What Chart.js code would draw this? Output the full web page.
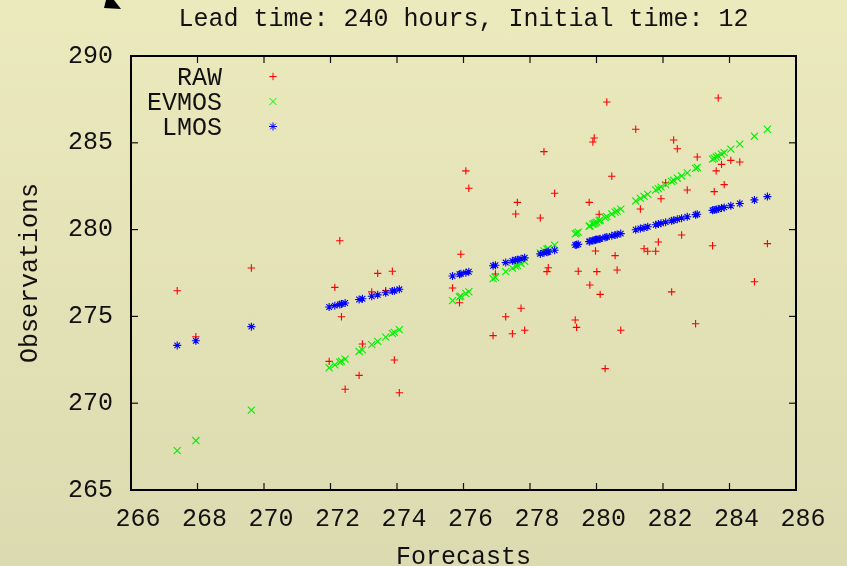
<!DOCTYPE html>
<html>
<head>
<meta charset="utf-8">
<script src="https://cdn.jsdelivr.net/npm/chart.js"></script>
<style>
  html, body { margin: 0; padding: 0; }
  body {
    width: 847px; height: 566px; overflow: hidden;
    background: linear-gradient(to bottom, #ebeabd 0%, #dcdab0 100%);
  }
  canvas { display: block; }
</style>
</head>
<body>
<canvas id="grafik" width="847" height="566"></canvas>
<script>
// data
const baslik = 'Lead time: 240 hours, Initial time: 12';
const seriAdlari = ['RAW', 'EVMOS', 'LMOS'];

const forecasts = [267.39, 267.95, 269.62, 271.96, 272.13, 272.28, 272.33, 272.44, 272.86, 272.96,
  273.24, 273.42, 273.66, 273.86, 273.92, 274.07, 275.67, 275.88, 275.92, 276.07,
  276.16, 276.89, 276.96, 277.27, 277.47, 277.57, 277.62, 277.73, 277.84, 278.31,
  278.42, 278.51, 278.55, 278.74, 279.36, 279.40, 279.45, 279.78, 279.80, 279.89,
  279.93, 279.97, 280.01, 280.08, 280.11, 280.26, 280.31, 280.46, 280.56, 280.62,
  280.73, 281.18, 281.32, 281.43, 281.54, 281.78, 281.86, 281.94, 282.08, 282.26,
  282.32, 282.43, 282.56, 282.73, 282.98, 283.03, 283.49, 283.54, 283.60, 283.66,
  283.76, 283.84, 284.04, 284.31, 284.75, 285.14];

const rawObs = [276.48, 273.83, 277.79, 272.41, 276.67, 279.36, 274.98, 270.80, 271.60, 273.41,
  276.41, 277.48, 276.48, 277.60, 272.49, 270.60, 276.64, 275.79, 278.58, 283.38,
  282.38, 273.89, 277.44, 274.98, 274.00, 280.90, 281.57, 275.47, 274.20, 280.67,
  284.49, 277.58, 277.80, 282.09, 274.79, 274.37, 277.60, 281.57, 276.81, 285.05,
  285.28, 278.77, 277.58, 280.88, 276.27, 271.99, 287.35, 283.07, 278.50, 277.67,
  274.20, 285.78, 281.19, 278.90, 278.75, 278.75, 279.29, 281.78, 282.70, 276.41,
  285.16, 284.66, 279.69, 282.28, 274.58, 284.18, 279.07, 282.19, 283.38, 287.58,
  283.76, 282.59, 283.99, 283.89, 277.00, 279.19];

const evmosVals = [267.27, 267.85, 269.60, 272.04, 272.21, 272.37, 272.42, 272.54, 272.98, 273.08,
  273.37, 273.56, 273.81, 274.02, 274.08, 274.24, 275.91, 276.13, 276.17, 276.32,
  276.42, 277.18, 277.25, 277.58, 277.78, 277.89, 277.94, 278.05, 278.17, 278.66,
  278.77, 278.87, 278.91, 279.11, 279.75, 279.80, 279.85, 280.19, 280.21, 280.31,
  280.35, 280.39, 280.43, 280.51, 280.54, 280.69, 280.75, 280.90, 281.01, 281.07,
  281.18, 281.65, 281.80, 281.91, 282.03, 282.28, 282.36, 282.45, 282.59, 282.78,
  282.84, 282.96, 283.09, 283.27, 283.53, 283.58, 284.06, 284.11, 284.18, 284.24,
  284.34, 284.43, 284.64, 284.92, 285.38, 285.78];

const lmosVals = [273.33, 273.60, 274.41, 275.54, 275.62, 275.69, 275.72, 275.77, 275.97, 276.02,
  276.16, 276.24, 276.36, 276.46, 276.48, 276.56, 277.33, 277.43, 277.45, 277.52,
  277.57, 277.92, 277.95, 278.10, 278.20, 278.25, 278.27, 278.32, 278.38, 278.60,
  278.66, 278.70, 278.72, 278.81, 279.11, 279.13, 279.15, 279.31, 279.32, 279.37,
  279.39, 279.41, 279.43, 279.46, 279.47, 279.55, 279.57, 279.64, 279.69, 279.72,
  279.77, 279.99, 280.06, 280.11, 280.16, 280.28, 280.32, 280.36, 280.43, 280.51,
  280.54, 280.59, 280.66, 280.74, 280.86, 280.88, 281.11, 281.13, 281.16, 281.19,
  281.24, 281.28, 281.37, 281.50, 281.71, 281.90];

const xEksen = { min: 266, max: 286, adim: 2 };
const yEksen = { min: 265, max: 290, adim: 5 };

const YAZI = 'Liberation Mono';
Chart.defaults.font.family = YAZI;
Chart.defaults.font.size = 25;
Chart.defaults.color = '#111';

function noktalar(ys) {
  return forecasts.map((x, i) => ({ x: x, y: ys[i] }));
}

/* inward ticks on all four sides + border (gnuplot look) */
const cerceve = {
  id: 'cerceve',
  afterDatasetsDraw(chart) {
    const { ctx, chartArea: a, scales: { x, y } } = chart;
    ctx.save();
    ctx.strokeStyle = '#111';
    ctx.lineWidth = 1.2;
    const cizgi = (x1, y1, x2, y2) => {
      ctx.beginPath(); ctx.moveTo(x1, y1); ctx.lineTo(x2, y2); ctx.stroke();
    };
    x.ticks.forEach(t => {
      const px = x.getPixelForValue(t.value);
      cizgi(px, a.bottom, px, a.bottom - 7);
      cizgi(px, a.top, px, a.top + 7);
    });
    y.ticks.forEach(t => {
      const py = y.getPixelForValue(t.value);
      cizgi(a.left, py, a.left + 7, py);
      cizgi(a.right, py, a.right - 7, py);
    });
    ctx.lineWidth = 2;
    ctx.strokeStyle = '#000';
    ctx.strokeRect(a.left, a.top, a.right - a.left, a.bottom - a.top);

    // cut off arrow head at the top left corner
    ctx.fillStyle = '#000';
    ctx.beginPath();
    ctx.moveTo(106, 0); ctx.lineTo(114, 0); ctx.lineTo(121, 9); ctx.lineTo(104, 8);
    ctx.closePath();
    ctx.fill();
    ctx.restore();
  }
};

/* legend: label right aligned, sample on the right */
const gosterge = {
  id: 'gosterge',
  afterDatasetsDraw(chart) {
    const { ctx, chartArea: a } = chart;
    ctx.save();
    ctx.font = '25px "' + YAZI + '"';
    ctx.textAlign = 'right';
    ctx.textBaseline = 'middle';
    chart.data.datasets.forEach((ds, i) => {
      const yy = a.top + 22 + i * 25;
      ctx.fillStyle = '#111';
      ctx.fillText(ds.label, a.left + 91, yy);
      ctx.strokeStyle = ds.borderColor;
      ctx.fillStyle = ds.borderColor;
      ctx.lineWidth = 1;
      Chart.helpers.drawPoint(ctx, {
        pointStyle: ds.pointStyle, radius: ds.pointRadius, rotation: 0, borderWidth: 1
      }, a.left + 142, yy - 1.5);
    });
    ctx.restore();
  }
};

new Chart(document.getElementById('grafik'), {
  type: 'scatter',
  data: {
    datasets: [
      { label: seriAdlari[0], data: noktalar(rawObs), pointStyle: 'cross', pointRadius: 3.7,
        borderColor: '#ff0000', backgroundColor: '#ff0000', borderWidth: 1.1, order: 3 },
      { label: seriAdlari[1], data: noktalar(evmosVals), pointStyle: 'crossRot', pointRadius: 5,
        borderColor: '#00f000', backgroundColor: '#00f000', borderWidth: 1.1, order: 2 },
      { label: seriAdlari[2], data: noktalar(lmosVals), pointStyle: 'star', pointRadius: 4,
        borderColor: '#0000ff', backgroundColor: '#0000ff', borderWidth: 1.1, order: 1 }
    ]
  },
  options: {
    responsive: false,
    animation: false,
    events: [],
    layout: { padding: { left: 0, right: 51, top: 0, bottom: 0 } },
    plugins: {
      legend: { display: false },
      tooltip: { enabled: false },
      title: {
        display: true,
        text: baslik,
        fullSize: false,
        color: '#111',
        font: { size: 25, weight: 'normal', lineHeight: 1.2 },
        padding: { top: 4, bottom: 22 }
      }
    },
    scales: {
      x: {
        type: 'linear',
        min: xEksen.min, max: xEksen.max,
        grid: { display: false, drawTicks: false },
        border: { display: false },
        ticks: { stepSize: xEksen.adim, padding: 14, labelOffset: 7, color: '#111', maxRotation: 0 },
        title: { display: true, text: 'Forecasts', color: '#111',
          font: { size: 25, lineHeight: 1 }, padding: { top: 0, bottom: -4 } },
        afterFit(s) { s.height = 76; }
      },
      y: {
        type: 'linear',
        min: yEksen.min, max: yEksen.max,
        grid: { display: false, drawTicks: false },
        border: { display: false },
        ticks: { stepSize: yEksen.adim, padding: 18, color: '#111' },
        title: { display: true, text: 'Observations', color: '#111',
          font: { size: 25, lineHeight: 1.2 }, padding: { top: 15, bottom: 0 } },
        afterFit(s) { s.width = 131; }
      }
    }
  },
  plugins: [cerceve, gosterge]
});
</script>
</body>
</html>
